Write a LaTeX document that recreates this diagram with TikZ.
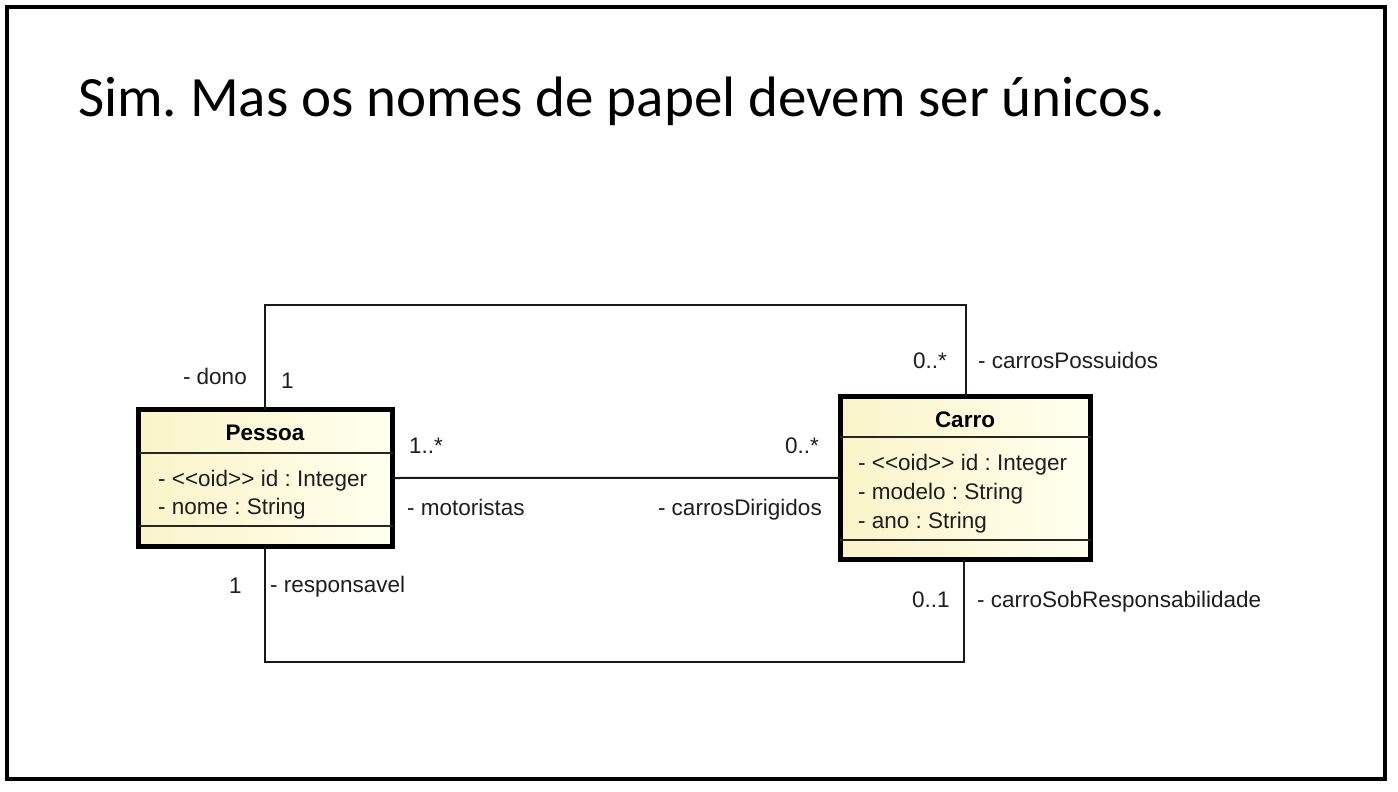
\documentclass[tikz,border=0pt]{standalone}
\usepackage{fontspec}
\setmainfont{Carlito}
\newfontfamily\umlfont{Liberation Sans}
\definecolor{clsL}{HTML}{FAF4C8}
\definecolor{clsR}{HTML}{FFFFEE}
\definecolor{txt}{HTML}{1E1E1E}
\frenchspacing
\begin{document}
\begin{tikzpicture}[x=1pt,y=-1pt,
  cls/.style={draw=black,line width=5pt,left color=clsL,right color=clsR,inner sep=0pt,outer sep=0pt,anchor=north west},
  lbl/.style={font=\umlfont\fontsize{22.5}{26}\selectfont,text=txt,inner sep=0pt},
  bold/.style={font=\umlfont\bfseries\fontsize{22.5}{26}\selectfont,text=black,inner sep=0pt},
  conn/.style={line width=2pt,draw=black!90},
  sep/.style={line width=1.6pt,draw=black!85}]
\useasboundingbox (0,0) rectangle (1398,792);
\fill[white] (0,0) rectangle (1398,792);
\draw[line width=4pt] (7,7) rectangle (1385,779);
\node[anchor=base west,inner sep=0pt,font=\fontsize{57}{62}\selectfont] (title) at (78,116) {Sim. Mas os nomes de papel devem ser únicos.};
% classes
\node[cls,minimum width=254pt,minimum height=137pt] (pessoa) at (138.5,409.5) {};
\draw[sep] (pessoa.west |- 0,453) -- (pessoa.east |- 0,453);
\draw[sep] (pessoa.west |- 0,526) -- (pessoa.east |- 0,526);
\node[bold,anchor=base] (pname) at (265,440) {Pessoa};
\node[lbl,anchor=base west] (pa1) at (158,486) {- <<oid>> id : Integer};
\node[lbl,anchor=base west] (pa2) at (158,514) {- nome : String};
\node[cls,minimum width=250.5pt,minimum height=163.5pt] (carro) at (840,396) {};
\draw[sep] (carro.west |- 0,437) -- (carro.east |- 0,437);
\draw[sep] (carro.west |- 0,540) -- (carro.east |- 0,540);
\node[bold,anchor=base] (cname) at (965,427) {Carro};
\node[lbl,anchor=base west] (ca1) at (858,470) {- <<oid>> id : Integer};
\node[lbl,anchor=base west] (ca2) at (858,499) {- modelo : String};
\node[lbl,anchor=base west] (ca3) at (858,528) {- ano : String};
% connectors
\draw[conn] ([xshift=126.5pt]pessoa.north west) -- ++(0,-104.5) -| ([xshift=126pt]carro.north west);
\draw[conn] (pessoa.east) -- (carro.west);
\draw[conn] ([xshift=126.5pt]pessoa.south west) -- ++(0,115.5) -| ([xshift=124pt]carro.south west);
% role labels
\node[lbl,anchor=base east] (ldono) at (247,384) {- dono};
\node[lbl,anchor=base west] (m1) at (281,388) {1};
\node[lbl,anchor=base west] (m2) at (913,368) {0..*};
\node[lbl,anchor=base west] (lposs) at (978,368) {- carrosPossuidos};
\node[lbl,anchor=base west] (m3) at (409,453) {1..*};
\node[lbl,anchor=base east] (m4) at (819,453) {0..*};
\node[lbl,anchor=base west] (lmot) at (407,515) {- motoristas};
\node[lbl,anchor=base east] (ldir) at (822,515) {- carrosDirigidos};
\node[lbl,anchor=base west] (m5) at (229,593) {1};
\node[lbl,anchor=base west] (lresp) at (270,592) {- responsavel};
\node[lbl,anchor=base west] (m6) at (912,607) {0..1};
\node[lbl,anchor=base west] (lsob) at (977,607) {- carroSobResponsabilidade};
\end{tikzpicture}
\end{document}
